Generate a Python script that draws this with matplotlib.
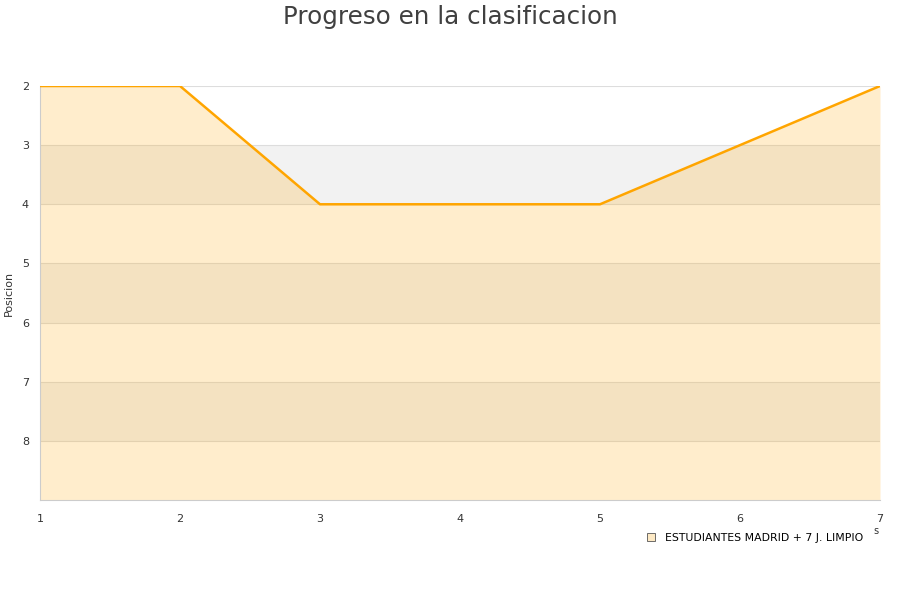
import matplotlib
matplotlib.use("Agg")
import matplotlib.pyplot as plt
from matplotlib.lines import Line2D

jornadas = [1, 2, 3, 4, 5, 6, 7]
posicion = [2, 2, 4, 4, 4, 3, 2]
equipo = "ESTUDIANTES MADRID + 7 J. LIMPIO"
y_ticks = [2, 3, 4, 5, 6, 7, 8]

fig = plt.figure(figsize=(9, 6), dpi=100)
ax = fig.add_axes([40 / 900, 1 - 500 / 600, 840 / 900, 414 / 600])

# alternating background bands
for y in range(2, 9):
    if y % 2 == 1:
        ax.axhspan(y, y + 1, color="#f2f2f2", zorder=0, lw=0)
    ax.axhline(y, color="#dddddd", lw=0.8, zorder=0.5)

ax.fill_between(jornadas, posicion, 9, color="#FFA500", alpha=0.2, lw=0, zorder=1)
ax.plot(jornadas, posicion, color="#FFA500", lw=1.8, zorder=3)

ax.set_xlim(1, 7)
ax.set_ylim(9, 2)
ax.set_yticks(y_ticks)
ax.set_xticks(jornadas)
ax.tick_params(length=0, labelsize=8, colors="#333333", pad=8)
ax.tick_params(axis="x", pad=10)
for s in ["top", "right"]:
    ax.spines[s].set_visible(False)
for s in ["left", "bottom"]:
    ax.spines[s].set_color("#cccccc")
ax.set_ylabel("Posicion", fontsize=8, color="#333333", labelpad=6)

fig.suptitle("Progreso en la clasificacion", fontsize=17.7, color="#404040", y=0.992)

handle = Line2D([], [], marker="s", ls="none", markersize=6,
                markerfacecolor="#fde9c4", markeredgecolor="#555555", markeredgewidth=0.6)
fig.legend([handle], [equipo], loc="center left", bbox_to_anchor=(636 / 900, 1 - 538 / 600),
           frameon=False, fontsize=7.8, handletextpad=0.3, borderaxespad=0)
fig.text(873 / 900, 1 - 534 / 600, "s", fontsize=7, color="#333333")

fig.savefig("out.png", dpi=100)
